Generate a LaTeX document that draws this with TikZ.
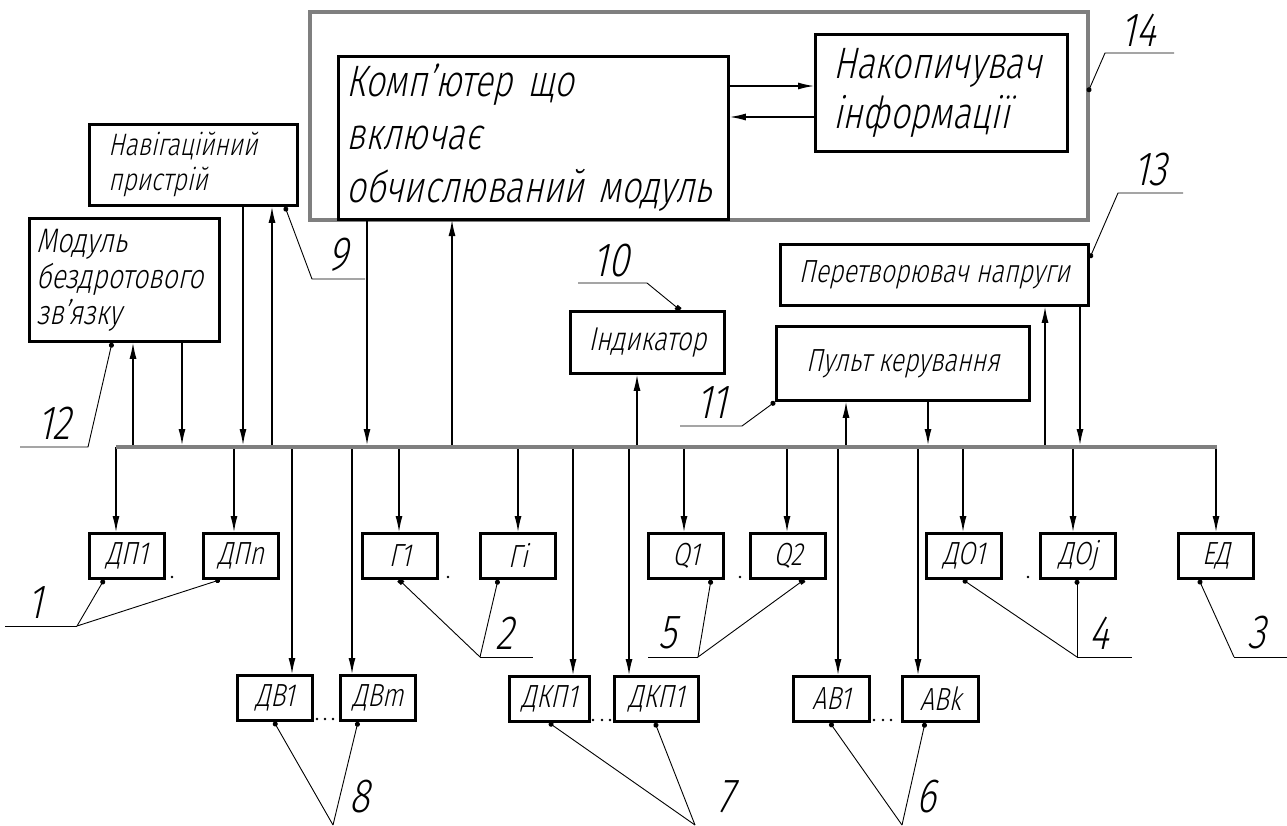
\documentclass[tikz,border=0pt]{standalone}
\usepackage{fontspec}
\newfontfamily\gost{Fira Sans Light}[FakeStretch=0.78,FakeSlant=0.22]
\usetikzlibrary{arrows.meta}
\definecolor{framegray}{HTML}{7F7F7F}
\begin{document}
\begin{tikzpicture}[x=1pt,y=-1pt,
  bx/.style={draw=black,line width=2.8pt,inner sep=0pt,anchor=north west,text=black},
  sbx/.style={bx,minimum height=45pt,font=\gost\fontsize{32}{34}\selectfont},
  conn/.style={line width=1.3pt,-{Latex[length=16pt,width=7pt]}},
  lead/.style={line width=0.9pt},
  dotc/.style={-{Circle[length=5pt]}},
  dotsq/.style={-{Square[length=5pt]}},
  num/.style={font=\gost\fontsize{48}{48}\selectfont,inner sep=0pt},
]
\useasboundingbox (0,0) rectangle (1287,825);
\fill[white] (0,0) rectangle (1287,825);

% ---- outer frame (14)
\node[draw=framegray,line width=4.8pt,inner sep=0pt,outer sep=0pt,anchor=north west,
      minimum width=778pt,minimum height=208pt] (sys) at (310,12) {};

% ---- top boxes
\node[bx,minimum width=390pt,minimum height=163pt,text width=374pt,align=left,
      font=\gost\fontsize{44}{53}\selectfont] (comp) at (337,55)
      {Комп’ютер що\\включає\\обчислюваний модуль};
\node[bx,minimum width=252pt,minimum height=117pt,text width=216pt,align=left,
      font=\gost\fontsize{44}{50}\selectfont] (nak) at (814,33)
      {Накопичувач\\інформації};
\node[bx,minimum width=208pt,minimum height=81pt,text width=170pt,align=left,
      font=\gost\fontsize{31}{35}\selectfont] (nav) at (88,123)
      {Навігаційний\\пристрій};
\node[bx,minimum width=190pt,minimum height=123pt,text width=176pt,align=left,
      font=\gost\fontsize{34}{36}\selectfont] (mod) at (28,217)
      {Модуль\\бездротового\\зв’язку};
\node[bx,minimum width=308pt,minimum height=61pt,font=\gost\fontsize{32}{38}\selectfont]
      (per) at (779,243) {Перетворювач напруги};
\node[bx,minimum width=253pt,minimum height=74pt,font=\gost\fontsize{32}{38}\selectfont]
      (pult) at (775,325) {Пульт керування};
\node[bx,minimum width=154pt,minimum height=62pt,font=\gost\fontsize{33}{36}\selectfont]
      (ind) at (569,310) {Індикатор};

% ---- row 1
\node[sbx,minimum width=75pt] (dp1) at (88,532) {ДП1};
\node[sbx,minimum width=75pt] (dpn) at (202,532) {ДПn};
\node[sbx,minimum width=75pt] (g1) at (361,532) {Г1};
\node[sbx,minimum width=75pt] (gi) at (479,532) {Гi};
\node[sbx,minimum width=75pt] (q1) at (647,532) {Q1};
\node[sbx,minimum width=75pt] (q2) at (749,532) {Q2};
\node[sbx,minimum width=75pt] (do1) at (925,532) {ДО1};
\node[sbx,minimum width=75pt] (doj) at (1039,532) {ДОj};
\node[sbx,minimum width=75pt] (ed) at (1177,532) {ЕД};
% ---- row 2
\node[sbx,minimum width=75pt] (dv1) at (236,674) {ДВ1};
\node[sbx,minimum width=75pt] (dvm) at (339,674) {ДВm};
\node[sbx,minimum width=80pt] (dkp1) at (508,675) {ДКП1};
\node[sbx,minimum width=84pt] (dkp2) at (613,675) {ДКП1};
\node[sbx,minimum width=76pt] (av1) at (792,675) {АВ1};
\node[sbx,minimum width=76pt] (avk) at (901,675) {АВk};

% ---- bus
\coordinate (busL) at (116,447);
\coordinate (busR) at (1217,447);

% ---- connectors top <-> bus
\draw[conn] (133,0 |- busL) -- (133,0 |- mod.south);
\draw[conn,shorten >=2pt] (182,0 |- mod.south) -- (182,0 |- busL);
\draw[conn,shorten >=2pt] (243,0 |- nav.south) -- (243,0 |- busL);
\draw[conn] (272,0 |- busL) -- (272,0 |- nav.south);
\draw[conn,shorten >=2pt] (367,0 |- sys.south) -- (367,0 |- busL);
\draw[conn] (452,0 |- busL) -- (452,0 |- sys.south);
\draw[conn] (637,0 |- busL) -- (637,0 |- ind.south);
\draw[conn] (846,0 |- busL) -- (846,0 |- pult.south);
\draw[conn,shorten >=2pt] (928,0 |- pult.south) -- (928,0 |- busL);
\draw[conn] (1045,0 |- busL) -- (1045,0 |- per.south);
\draw[conn,shorten >=2pt] (1080,0 |- per.south) -- (1080,0 |- busL);

% ---- computer <-> storage
\draw[conn] (comp.east |- 0,86) -- (nak.west |- 0,86);
\draw[conn] (nak.west |- 0,117) -- (comp.east |- 0,117);

% ---- bus -> row 1
\draw[conn] (116,0 |- busL) -- (116,0 |- dp1.north);
\draw[conn] (234,0 |- busL) -- (234,0 |- dpn.north);
\draw[conn] (399,0 |- busL) -- (399,0 |- g1.north);
\draw[conn] (518,0 |- busL) -- (518,0 |- gi.north);
\draw[conn] (684,0 |- busL) -- (684,0 |- q1.north);
\draw[conn] (787,0 |- busL) -- (787,0 |- q2.north);
\draw[conn] (963,0 |- busL) -- (963,0 |- do1.north);
\draw[conn] (1073,0 |- busL) -- (1073,0 |- doj.north);
\draw[conn] (1216,0 |- busL) -- (1216,0 |- ed.north);
% ---- bus -> row 2
\draw[conn] (292,0 |- busL) -- (292,0 |- dv1.north);
\draw[conn] (352,0 |- busL) -- (352,0 |- dvm.north);
\draw[conn] (573,0 |- busL) -- (573,0 |- dkp1.north);
\draw[conn] (629,0 |- busL) -- (629,0 |- dkp2.north);
\draw[conn] (838,0 |- busL) -- (838,0 |- av1.north);
\draw[conn] (918,0 |- busL) -- (918,0 |- avk.north);

\draw[framegray,line width=4.8pt] (busL) -- (busR);

% ---- ellipsis dots
\foreach \p in {(172,577),(448,577),(723,577),(740,577),(1028,577),
                (317,719),(325,719),(333,719),(593,720),(602,720),(610,720),
                (874,720),(883,720),(891,720)}
  \fill \p circle (1.4pt);

% ---- leaders and numbers
\coordinate (s14r) at (1174,53); \coordinate (s14l) at (1105,53);
\draw[lead,dotc] (s14r) -- (s14l) -- (sys.east |- 0,92);
\node[num] (n14) at (1138,30) {14};

\coordinate (s13r) at (1183,193); \coordinate (s13l) at (1118,193);
\draw[lead,dotc] (s13r) -- (s13l) -- (per.east |- 0,258);
\node[num] (n13) at (1150,170) {13};

\coordinate (s12l) at (20,447); \coordinate (s12r) at (88,447);
\draw[lead,dotc] (s12l) -- (s12r) -- (112,0 |- mod.south);
\node[num] (n12) at (54,423) {12};

\coordinate (s9l) at (312,279); \coordinate (s9r) at (365,279);
\draw[lead,dotc] (s9r) -- (s9l) -- (285,0 |- nav.south);
\node[num] (n9) at (338,255) {9};

\coordinate (s10l) at (578,283); \coordinate (s10r) at (647,283);
\draw[lead,dotsq] (s10l) -- (s10r) -- (680,0 |- ind.north);
\node[num] (n10) at (611,261) {10};

\coordinate (s11l) at (680,426); \coordinate (s11r) at (742,426);
\draw[lead,dotc] (s11l) -- (s11r) -- (pult.south west);
\node[num] (n11) at (712,403) {11};

\coordinate (c1) at (77,626); \coordinate (s1l) at (5,626);
\draw[lead] (s1l) -- (c1);
\draw[lead,dotc] (c1) -- (104,0 |- dp1.south);
\draw[lead,dotc] (c1) -- (220,0 |- dpn.south);
\node[num] (n1) at (35,603) {1};

\coordinate (c2) at (480,657); \coordinate (s2r) at (533,657);
\draw[lead] (c2) -- (s2r);
\draw[lead,dotsq] (c2) -- (399,0 |- g1.south);
\draw[lead,dotc] (c2) -- (498,0 |- gi.south);
\node[num] (n2) at (504,633) {2};

\coordinate (c5) at (698,657); \coordinate (s5l) at (648,657);
\draw[lead] (s5l) -- (c5);
\draw[lead,dotc] (c5) -- (711,0 |- q1.south);
\draw[lead,dotsq] (c5) -- (804,0 |- q2.south);
\node[num] (n5) at (668,633) {5};

\coordinate (c4) at (1077,657); \coordinate (s4r) at (1132,657);
\draw[lead] (c4) -- (s4r);
\draw[lead,dotc] (c4) -- (963,0 |- do1.south);
\draw[lead,dotc] (c4) -- (1077,0 |- doj.south);
\node[num] (n4) at (1099,633) {4};

\coordinate (c3) at (1234,657); \coordinate (s3r) at (1287,657);
\draw[lead] (c3) -- (s3r);
\draw[lead,dotc] (c3) -- (1199,0 |- ed.south);
\node[num] (n3) at (1257,633) {3};

\coordinate (c8) at (333,825);
\draw[lead,dotc] (c8) -- (274,0 |- dv1.south);
\draw[lead,dotc] (c8) -- (358,0 |- dvm.south);
\node[num] (n8) at (360,797) {8};

\coordinate (c7) at (695,825);
\draw[lead,dotc] (c7) -- (549,0 |- dkp1.south);
\draw[lead,dotc] (c7) -- (655,0 |- dkp2.south);
\node[num] (n7) at (726,797) {7};

\coordinate (c6) at (902,825);
\draw[lead,dotc] (c6) -- (830,0 |- av1.south);
\draw[lead,dotc] (c6) -- (925,0 |- avk.south);
\node[num] (n6) at (926,797) {6};
\end{tikzpicture}
\end{document}
